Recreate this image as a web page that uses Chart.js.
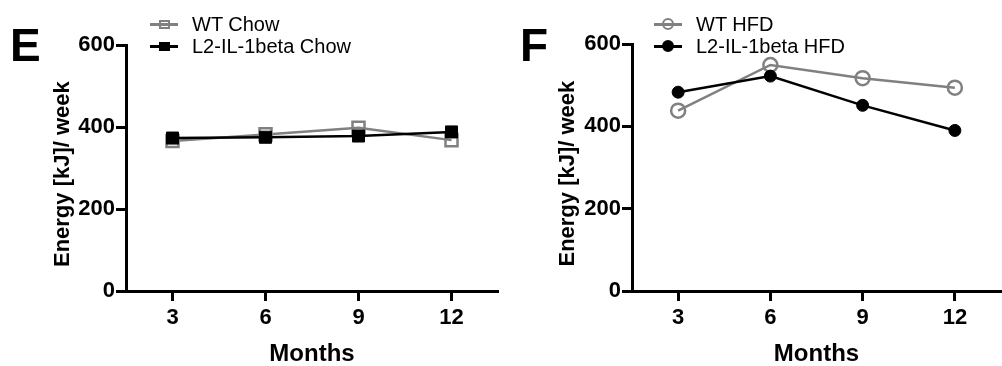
<!DOCTYPE html>
<html>
<head>
<meta charset="utf-8">
<script src="https://cdn.jsdelivr.net/npm/chart.js@4.4.1/dist/chart.umd.min.js"></script>
<style>
  body { margin: 0; background: #fff; width: 1002px; height: 366px; overflow: hidden; position: relative; font-family: 'Liberation Sans', Arial, sans-serif; }
  .panel { position: absolute; top: 0; height: 366px; }
  .letter { position: absolute; font-size: 46px; font-weight: bold; line-height: 1; color: #000; }
  .leg { position: absolute; height: 24px; line-height: 24px; font-size: 20px; color: #000; white-space: nowrap; }
  .leg .ln { position: absolute; left: 0; top: 11px; width: 28px; height: 2.5px; }
  .leg .mk { position: absolute; box-sizing: border-box; }
  .leg .tx { position: absolute; left: 42px; top: 0; }
</style>
</head>
<body>
<div class="panel" style="left:0;width:500px"><canvas id="chartE"></canvas></div>
<div class="panel" style="left:500px;width:502px"><canvas id="chartF"></canvas></div>
<div class="letter" style="left:10px;top:22px">E</div>
<div class="letter" style="left:520px;top:22px">F</div>
<div id="legendE"></div>
<div id="legendF"></div>
<script>
// Data
const months = ['3', '6', '9', '12'];
const wtChow = [366, 382, 398, 368];
const l2Chow = [373, 375, 378, 388];
const wtHfd = [438, 549, 517, 494];
const l2Hfd = [483, 522, 451, 390];
const yTicks = [0, 200, 400, 600];

const GRAY = '#808080';
const BLACK = '#000000';
const FONT = "'Liberation Sans', Arial, sans-serif";

// Build one panel's options (autoPadding off so the point size does not shrink the plot)
function panelOptions(axisWidth, titlePad, topPad, rightPad) {
    return {
        responsive: false,
        animation: false,
        layout: { autoPadding: false, padding: { top: topPad, right: rightPad, left: 0, bottom: 0 } },
        plugins: { legend: { display: false }, tooltip: { enabled: false } },
        scales: {
            x: {
                type: 'category',
                offset: true,
                grid: { drawOnChartArea: false, offset: false, tickLength: 10, tickWidth: 3, tickColor: BLACK },
                border: { display: true, color: BLACK, width: 3 },
                ticks: { color: BLACK, padding: 4, font: { family: FONT, size: 22, weight: 'bold' } },
                title: { display: true, text: 'Months', color: BLACK, padding: { top: 0, bottom: 1 },
                         font: { family: FONT, size: 24, weight: 'bold', lineHeight: 0.9 } },
                afterFit: s => { s.height = 366 - 291; }
            },
            y: {
                min: 0,
                max: 600,
                afterBuildTicks: s => { s.ticks = yTicks.map(v => ({ value: v })); },
                grid: { drawOnChartArea: false, tickLength: 10, tickWidth: 3, tickColor: BLACK },
                border: { display: true, color: BLACK, width: 3 },
                ticks: { color: BLACK, padding: 1, font: { family: FONT, size: 22, weight: 'bold' } },
                // two trailing spaces nudge the centred title down a little, like the original
                title: { display: true, text: 'Energy [kJ]/ week  ', color: BLACK, padding: { top: titlePad, bottom: 0 },
                         font: { family: FONT, size: 22, weight: 'bold' } },
                afterFit: s => { s.width = axisWidth; }
            }
        }
    };
}

function makeCanvas(id, w) {
    const c = document.getElementById(id);
    c.width = w;
    c.height = 366;
    c.style.width = w + 'px';
    c.style.height = '366px';
    return c;
}

new Chart(makeCanvas('chartE', 500), {
    type: 'line',
    data: {
        labels: months,
        datasets: [
            { label: 'L2-IL-1beta Chow', data: l2Chow, borderColor: BLACK, backgroundColor: BLACK, borderWidth: 2.5,
              pointStyle: 'rect', pointRadius: 8.5, pointBorderWidth: 1, pointBackgroundColor: BLACK },
            { label: 'WT Chow', data: wtChow, borderColor: GRAY, backgroundColor: 'rgba(0,0,0,0)', borderWidth: 2.5,
              pointStyle: 'rect', pointRadius: 8.5, pointBorderWidth: 2.5, pointBackgroundColor: 'rgba(0,0,0,0)' }
        ]
    },
    options: panelOptions(126, 50, 45, 2)
});

new Chart(makeCanvas('chartF', 502), {
    type: 'line',
    data: {
        labels: months,
        datasets: [
            { label: 'L2-IL-1beta HFD', data: l2Hfd, borderColor: BLACK, backgroundColor: BLACK, borderWidth: 2.5,
              pointStyle: 'circle', pointRadius: 6, pointBorderWidth: 1, pointBackgroundColor: BLACK },
            { label: 'WT HFD', data: wtHfd, borderColor: GRAY, backgroundColor: 'rgba(0,0,0,0)', borderWidth: 2.5,
              pointStyle: 'circle', pointRadius: 7, pointBorderWidth: 2.5, pointBackgroundColor: 'rgba(0,0,0,0)' }
        ]
    },
    options: panelOptions(132, 55, 44, 1)
});

// Legends drawn as html rows: line + marker + text
function legendRow(parent, left, top, text, color, shape, filled) {
    const row = document.createElement('div');
    row.className = 'leg';
    row.style.left = left + 'px';
    row.style.top = top + 'px';
    const ln = document.createElement('div');
    ln.className = 'ln';
    ln.style.background = color;
    const mk = document.createElement('div');
    mk.className = 'mk';
    const size = shape === 'circle' ? 12 : 11;
    const h = shape === 'circle' ? size : 9;
    mk.style.width = size + 'px';
    mk.style.height = h + 'px';
    mk.style.left = (14 - size / 2) + 'px';
    mk.style.top = (12.25 - h / 2) + 'px';
    mk.style.border = '2px solid ' + color;
    mk.style.background = filled ? color : 'transparent';
    if (shape === 'circle') mk.style.borderRadius = '50%';
    const tx = document.createElement('span');
    tx.className = 'tx';
    tx.textContent = text;
    row.appendChild(ln);
    row.appendChild(mk);
    row.appendChild(tx);
    document.getElementById(parent).appendChild(row);
}

legendRow('legendE', 150, 12, 'WT Chow', GRAY, 'rect', false);
legendRow('legendE', 150, 34, 'L2-IL-1beta Chow', BLACK, 'rect', true);
legendRow('legendF', 654, 12, 'WT HFD', GRAY, 'circle', false);
legendRow('legendF', 654, 34, 'L2-IL-1beta HFD', BLACK, 'circle', true);
</script>
</body>
</html>
